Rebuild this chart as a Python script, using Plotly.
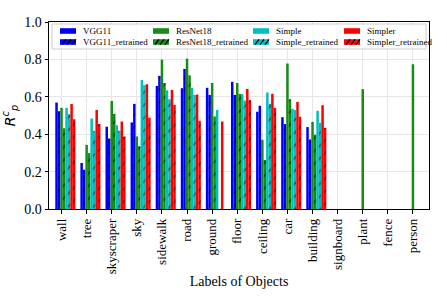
import plotly.graph_objects as go

categories = ["wall", "tree", "skyscraper", "sky", "sidewalk", "road", "ground", "floor",
              "ceiling", "car", "building", "signboard", "plant", "fence", "person"]

vgg11 = [0.569, 0.246, 0.440, 0.463, 0.658, 0.646, 0.648, 0.680, 0.520, 0.491, 0.438, None, None, None, None]
vgg11_retrained = [0.523, 0.210, 0.377, 0.562, 0.712, 0.749, 0.610, 0.610, 0.552, 0.454, 0.372, None, None, None, None]
resnet18 = [0.541, 0.343, 0.578, 0.388, 0.799, 0.804, 0.674, 0.674, 0.370, 0.778, 0.466, None, 0.641, None, 0.774]
resnet18_retrained = [0.432, 0.299, 0.509, 0.336, 0.674, 0.715, 0.495, 0.616, 0.262, 0.587, 0.397, None, None, None, None]
simple = [0.541, 0.484, 0.448, 0.690, 0.635, 0.648, 0.530, 0.614, 0.623, 0.536, 0.525, None, None, None, None]
simple_retrained = [0.507, 0.418, 0.418, 0.662, 0.587, 0.610, None, 0.580, 0.562, 0.530, 0.461, None, None, None, None]
simpler = [0.562, 0.530, 0.468, 0.667, 0.637, 0.612, 0.468, 0.642, 0.616, 0.573, 0.555, None, None, None, None]
simpler_retrained = [0.480, 0.454, 0.388, 0.488, 0.557, 0.472, None, 0.582, 0.541, 0.493, 0.434, None, None, None, None]

series = [
    ("VGG11", vgg11, "#0000ff", False),
    ("VGG11_retrained", vgg11_retrained, "#0000ff", True),
    ("ResNet18", resnet18, "#168c16", False),
    ("ResNet18_retrained", resnet18_retrained, "#168c16", True),
    ("Simple", simple, "#00bfbf", False),
    ("Simple_retrained", simple_retrained, "#00bfbf", True),
    ("Simpler", simpler, "#ff0000", False),
    ("Simpler_retrained", simpler_retrained, "#ff0000", True),
]

SERIF = "Liberation Serif"
BW = 0.1
xs = list(range(len(categories)))
fig = go.Figure()
for i, (name, vals, color, hatched) in enumerate(series):
    marker = dict(color=color, line=dict(width=0))
    if hatched:
        marker["pattern"] = dict(shape="/", fgcolor="black", bgcolor=color, size=9, solidity=0.2)
    fig.add_trace(go.Bar(
        x=xs, y=vals, name=name, width=BW, offset=(i - 2) * BW - BW / 2,
        marker=marker, showlegend=False,
    ))

# plot area in pixels
L, R, T, B = 49, 429, 22, 209
W, H = 447, 298
pw, ph = R - L, B - T

def px(xp):
    return (xp - L) / pw

def py(yp):
    return (B - yp) / ph

shapes = []
annotations = []
# legend box
shapes.append(dict(type="rect", xref="paper", yref="paper",
                   x0=px(52), x1=px(426), y0=py(49), y1=py(24),
                   line=dict(color="#cccccc", width=1), fillcolor="rgba(255,255,255,0.8)", layer="above"))
col_x = [60, 153, 253, 344]
row_y = [31, 42]
for i, (name, vals, color, hatched) in enumerate(series):
    c = i // 2
    r = i % 2
    x0, yc = col_x[c], row_y[r]
    shapes.append(dict(type="rect", xref="paper", yref="paper",
                       x0=px(x0), x1=px(x0 + 16), y0=py(yc + 2.8), y1=py(yc - 2.8),
                       line=dict(width=0), fillcolor=color, layer="above"))
    if hatched:
        for k in range(3):
            hx = x0 + 2 + k * 5
            shapes.append(dict(type="line", xref="paper", yref="paper",
                               x0=px(hx), x1=px(hx + 4), y0=py(yc + 2.6), y1=py(yc - 2.6),
                               line=dict(color="black", width=1.2), layer="above"))
    annotations.append(dict(text=name, xref="paper", yref="paper", x=px(x0 + 21), y=py(yc),
                            xanchor="left", yanchor="middle", showarrow=False,
                            font=dict(family=SERIF, size=9, color="black")))

fig.update_layout(
    width=W, height=H,
    margin=dict(l=L, r=W - R, t=T, b=H - B, autoexpand=False),
    barmode="overlay",
    plot_bgcolor="white", paper_bgcolor="white",
    font=dict(family=SERIF, color="black"),
    shapes=shapes, annotations=annotations,
    showlegend=False,
    xaxis=dict(
        range=[-0.5, 14.64], tickmode="array", tickvals=xs, ticktext=categories,
        tickangle=-90, tickfont=dict(family=SERIF, size=13), ticks="outside", ticklen=3.5, tickcolor="black",
        showgrid=True, gridcolor="#e6e6e6", gridwidth=1, automargin=False,
        showline=True, linecolor="black", linewidth=1, mirror=True, zeroline=False,
        title=dict(text="Labels of Objects", font=dict(family=SERIF, size=14), standoff=2),
    ),
    yaxis=dict(
        range=[0, 1.0], tickmode="array", tickvals=[0, 0.2, 0.4, 0.6, 0.8, 1.0],
        ticktext=["0.0", "0.2", "0.4", "0.6", "0.8", "1.0"], tickfont=dict(family=SERIF, size=14),
        ticks="outside", ticklen=3.5, tickcolor="black", automargin=False,
        showgrid=True, gridcolor="#e6e6e6", gridwidth=1,
        showline=True, linecolor="black", linewidth=1, mirror=True, zeroline=False,
        title=dict(text="<i>R</i><sup><i>c</i></sup><sub><i>p</i></sub>",
                   font=dict(family="DejaVu Sans", size=14), standoff=8),
    ),
)

fig.write_html("out.html", config={"displayModeBar": False},
               post_script="document.body.style.margin='0';document.body.style.padding='0';")
